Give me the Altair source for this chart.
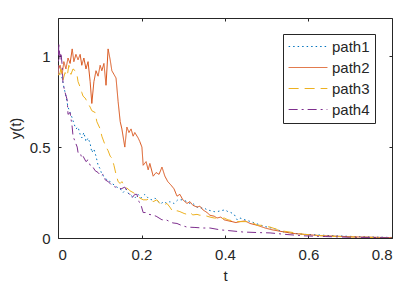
import altair as alt
import pandas as pd

# path1 (blue, dotted)
t1 = [0, .005, .010, .014, .019, .024, .029, .034, .038, .043, .048, .053, .057, .062, .067, .072, .077, .081,
      .086, .091, .096, .101, .105, .110, .117, .125, .129, .136, .141, .149, .156, .163, .170, .177, .184, .192,
      .199, .208, .216, .223, .232, .240, .247, .254, .261, .268, .278, .287, .299, .309, .316, .323, .333, .340,
      .350, .357, .366, .374, .381, .390, .400, .407, .414, .422, .429, .436, .448, .462, .474, .486, .501, .520,
      .541, .568, .592, .620, .663, .711, .759, .8]
y1 = [.93, .90, .88, .83, .78, .72, .69, .66, .63, .60, .61, .57, .55, .58, .53, .55, .52, .47,
      .49, .45, .40, .38, .35, .34, .32, .31, .30, .29, .28, .27, .25, .27, .24, .23, .22, .24,
      .22, .24, .22, .21, .22, .20, .19, .20, .19, .20, .19, .21, .21, .20, .19, .19, .17, .165,
      .165, .155, .15, .145, .145, .15, .155, .145, .14, .13, .10, .11, .10, .09, .08, .07, .06, .05,
      .033, .025, .02, .017, .012, .008, .005, .003]

# path2 (orange, solid)
t2 = [0, .005, .010, .014, .019, .024, .029, .034, .038, .043, .048, .053, .057, .062, .067, .072, .077, .081,
      .086, .091, .096, .101, .105, .110, .115, .120, .125, .129, .134, .139, .144, .149, .153, .160, .165, .170,
      .175, .180, .184, .192, .196, .201, .204, .211, .216, .220, .228, .235, .242, .249, .256, .263, .271, .278,
      .285, .292, .299, .309, .316, .323, .333, .340, .347, .357, .364, .374, .381, .390, .398, .407, .417, .426,
      .436, .448, .460, .477, .496, .513, .537, .563, .589, .628, .668, .711, .759, .8]
y2 = [.92, .95, .90, .97, .93, .99, .96, 1.04, .97, 1.01, .98, 1.01, .95, .99, .93, .97, .86, .74,
      .86, .92, .89, .95, .92, .96, .84, 1.04, .98, .92, .90, .88, .75, .64, .60, .50, .61, .58,
      .60, .56, .58, .55, .53, .50, .40, .42, .375, .41, .34, .36, .35, .39, .34, .31, .29, .27,
      .23, .24, .21, .19, .20, .18, .17, .175, .155, .14, .125, .12, .11, .115, .10, .095, .09, .085,
      .09, .094, .08, .07, .055, .045, .035, .025, .02, .013, .01, .006, .004, .002]

# path3 (yellow, dashed)
t3 = [0, .002, .007, .012, .017, .022, .026, .031, .036, .041, .046, .048, .053, .057, .060, .065, .072, .077,
      .081, .089, .093, .101, .105, .113, .120, .125, .129, .134, .139, .144, .149, .153, .160, .168, .172, .180,
      .187, .196, .204, .213, .220, .228, .237, .244, .251, .261, .268, .275, .285, .292, .302, .309, .316, .323,
      .333, .340, .347, .357, .364, .374, .381, .390, .398, .407, .417, .426, .443, .462, .477, .486, .508, .534,
      .563, .589, .628, .668, .711, .759, .8]
y3 = [.95, .88, .93, .87, .91, .89, .95, .90, .93, .92, .89, .86, .83, .80, .78, .77, .74, .72,
      .70, .69, .64, .60, .56, .51, .48, .45, .44, .40, .35, .31, .30, .31, .28, .27, .26, .25,
      .24, .22, .21, .21, .22, .20, .21, .19, .18, .19, .17, .145, .15, .145, .135, .13, .14, .127,
      .13, .125, .127, .12, .115, .11, .11, .105, .11, .10, .095, .09, .09, .09, .07, .07, .06, .04,
      .03, .02, .013, .008, .005, .003, .001]

# path4 (purple, dash-dot)
t4 = [0, .002, .005, .007, .010, .012, .017, .022, .024, .029, .034, .036, .041, .046, .048, .053, .057, .060,
      .067, .072, .077, .081, .089, .096, .103, .108, .113, .120, .125, .129, .137, .144, .151, .160, .168, .172,
      .177, .184, .189, .194, .199, .204, .211, .218, .225, .235, .242, .249, .259, .268, .275, .285, .295, .309,
      .328, .347, .364, .388, .412, .443, .477, .508, .544, .589, .640, .699, .747, .8]
y4 = [.90, 1.07, .98, 1.02, .95, .85, .80, .76, .68, .69, .61, .56, .53, .50, .47, .47, .44, .45,
      .42, .43, .40, .40, .37, .36, .34, .35, .32, .31, .30, .29, .28, .28, .27, .28, .25, .24,
      .22, .24, .24, .20, .18, .14, .14, .13, .127, .12, .11, .10, .10, .09, .083, .08, .07, .06,
      .058, .055, .055, .045, .04, .033, .03, .028, .02, .012, .008, .004, .003, .001]

names = ["path1", "path2", "path3", "path4"]
colors = ["#0072BD", "#D95319", "#EDB120", "#7E2F8E"]
dashes = [[1.5, 3], [1, 0], [10, 6], [9, 4, 2, 4]]
x_ticks = [0, 0.2, 0.4, 0.6, 0.8]
y_ticks = [0, 0.5, 1]

rows = []
for name, ts, ys in zip(names, [t1, t2, t3, t4], [y1, y2, y3, y4]):
    for t, y in zip(ts, ys):
        rows.append({"t": t, "y": y, "series": name})
df = pd.DataFrame(rows)

FONT = "Liberation Sans"
AX = "#262626"
xscale = alt.Scale(domain=[0, 0.8], nice=False, zero=False)
yscale = alt.Scale(domain=[0, 1.21], nice=False, zero=False)

common = dict(domain=False, grid=False, tickSize=3, offset=-3, tickColor=AX, tickWidth=1,
              labelFont=FONT, labelFontSize=15, labelColor=AX, titleFont=FONT, titleFontSize=15,
              titleFontWeight="normal", titleColor=AX)

bottom = alt.Axis(orient="bottom", values=x_ticks, format=".1~f", labelPadding=9, title="t",
                  titlePadding=6, **common)
left = alt.Axis(orient="left", values=y_ticks, format=".1~f", labelPadding=8, title="y(t)",
                titlePadding=6, **common)
top = alt.Axis(orient="top", values=x_ticks, labels=False, title="", **common)
right = alt.Axis(orient="right", values=y_ticks, labels=False, title="", **common)

lines = alt.Chart(df).mark_line(strokeWidth=1, clip=True).encode(
    x=alt.X("t:Q", scale=xscale, axis=bottom),
    y=alt.Y("y:Q", scale=yscale, axis=left),
    color=alt.Color("series:N", scale=alt.Scale(domain=names, range=colors),
                    legend=alt.Legend(title=None, orient="none", legendX=225, legendY=16,
                                      symbolType="stroke", symbolSize=1500, symbolStrokeWidth=1,
                                      clipHeight=15, rowPadding=5, labelOffset=4,
                                      labelFont=FONT, labelFontSize=15, labelColor=AX,
                                      strokeColor=AX, fillColor="white", padding=5)),
    strokeDash=alt.StrokeDash("series:N", scale=alt.Scale(domain=names, range=dashes), legend=None),
)

ghost = alt.Chart(df).mark_point(opacity=0).encode(
    x=alt.X("t:Q", scale=xscale, axis=top),
    y=alt.Y("y:Q", scale=yscale, axis=right),
)

chart = alt.layer(lines, ghost).resolve_axis(x="independent", y="independent").properties(
    width=334, height=220,
    autosize=alt.AutoSizeParams(type="none"),
    padding={"left": 50, "top": 10, "right": 8, "bottom": 53},
    background="white",
).configure_view(stroke=AX, strokeWidth=1)

chart.save("out.html", embed_options={"renderer": "svg", "actions": False})
